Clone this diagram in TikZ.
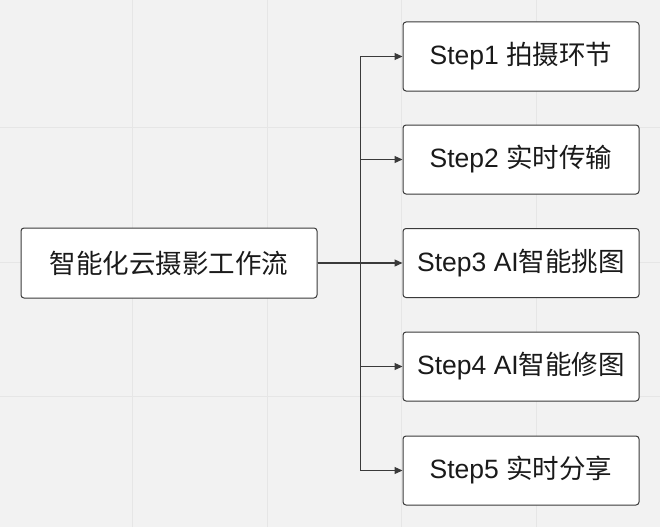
\documentclass[tikz,border=0pt]{standalone}
\usepackage{fontspec}
\setmainfont{Liberation Sans}
\newfontfamily\cjk{Noto Sans CJK SC}
\usetikzlibrary{arrows.meta}
\definecolor{bg}{HTML}{F2F2F2}
\definecolor{gridc}{HTML}{E6E6E6}
\definecolor{linec}{HTML}{3A3A3A}
\definecolor{txt}{HTML}{1A1A1A}
\tikzset{
  box/.style={draw=linec, line width=1pt, fill=white, rounded corners=3pt,
    inner sep=0pt, align=center, text=txt, font=\fontsize{26.5}{30}\selectfont},
  mainbox/.style={box, minimum width=296pt, minimum height=70pt},
  stepbox/.style={box, minimum width=236pt, minimum height=69pt},
  conn/.style={draw=linec, line width=1.2pt, -{Triangle[length=8pt,width=7pt]}}
}
\begin{document}
\begin{tikzpicture}[x=1pt,y=-1pt]
\fill[bg] (0,0) rectangle (660,527);
\useasboundingbox (0,0) rectangle (660,527);
\foreach \gx in {132,267,401,536} \draw[gridc, line width=1pt] (\gx,0) -- (\gx,527);
\foreach \gy in {127,262,396} \draw[gridc, line width=1pt] (0,\gy) -- (660,\gy);
\node[mainbox] (main) at (169,263) {\cjk 智能化云摄影工作流};
\node[stepbox] (s1) at (521,56.5) {Step1 {\cjk 拍摄环节}};
\node[stepbox] (s2) at (521,159.5) {Step2 {\cjk 实时传输}};
\node[stepbox] (s3) at (521,263) {Step3 AI{\cjk 智能挑图}};
\node[stepbox] (s4) at (521,366.5) {Step4 AI{\cjk 智能修图}};
\node[stepbox] (s5) at (521,470.5) {Step5 {\cjk 实时分享}};
\foreach \s in {s1,s2,s3,s4,s5}
  \draw[conn] (main.east) -- ++(43,0) |- (\s.west);
\end{tikzpicture}
\end{document}
